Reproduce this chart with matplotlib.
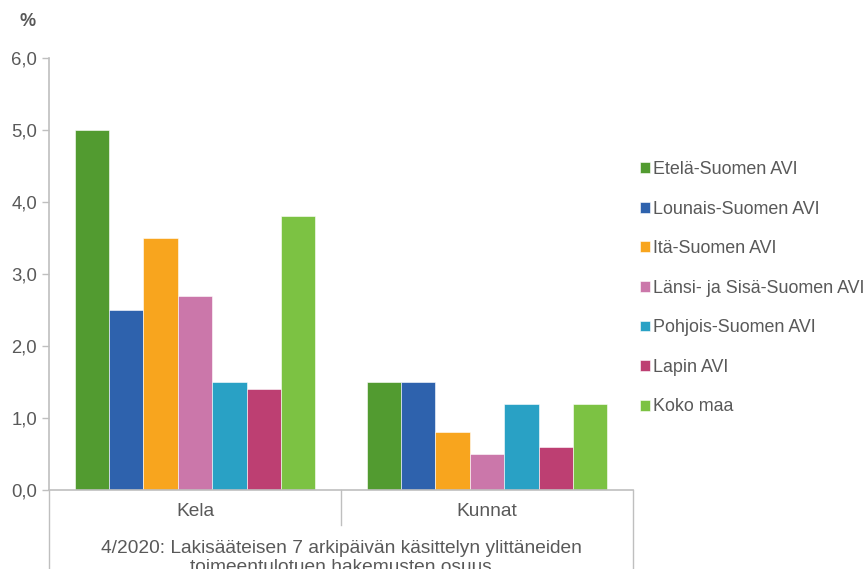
import numpy as np
import matplotlib.pyplot as plt
import matplotlib.transforms as mtransforms

categories = ["Kela", "Kunnat"]
series = ["Etelä-Suomen AVI", "Lounais-Suomen AVI", "Itä-Suomen AVI",
          "Länsi- ja Sisä-Suomen AVI", "Pohjois-Suomen AVI", "Lapin AVI", "Koko maa"]
values = [
    [5.0, 1.5],
    [2.5, 1.5],
    [3.5, 0.8],
    [2.7, 0.5],
    [1.5, 1.2],
    [1.4, 0.6],
    [3.8, 1.2],
]
colors = ["#529B30", "#2E62AD", "#F8A51E", "#CB77AA", "#29A1C5", "#BD3F72", "#7CC243"]
yticks = [0, 1, 2, 3, 4, 5, 6]
title_text = "4/2020: Lakisääteisen 7 arkipäivän käsittelyn ylittäneiden\ntoimeentulotuen hakemusten osuus"

plt.rcParams['font.family'] = ['Liberation Sans', 'DejaVu Sans']
grey = "#595959"
line_grey = "#BFBFBF"

fig = plt.figure(figsize=(8.66, 5.69), dpi=100)
W, H = 866, 569
ax = fig.add_axes([49 / W, (H - 490) / H, (633 - 49) / W, (490 - 58) / H])

x = np.arange(len(categories))
n = len(series)
bw = 0.825 / n
for i, (name, vals, c) in enumerate(zip(series, values, colors)):
    ax.bar(x + (i - (n - 1) / 2) * bw, vals, width=bw, color=c, label=name,
           edgecolor="white", linewidth=0.4)

ax.set_xlim(-0.5, 1.5)
ax.set_ylim(0, 6)
ax.set_yticks(yticks)
ax.set_yticklabels([f"{v:.1f}".replace(".", ",") for v in yticks])
ax.tick_params(axis="y", colors=line_grey, labelcolor=grey, labelsize=13.3, length=5, width=1)
ax.set_xticks([])
for s in ["top", "right"]:
    ax.spines[s].set_visible(False)
ax.spines["left"].set_color(line_grey)
ax.spines["bottom"].set_color(line_grey)
ax.spines["left"].set_linewidth(1.2)
ax.spines["bottom"].set_linewidth(1.2)

# multilevel category axis
trans = mtransforms.blended_transform_factory(ax.transData, ax.transAxes)
ah = 490 - 58
y1 = -(525 - 490) / ah
y2 = -(H - 490) / ah
for xv, yb in [(-0.5, y2), (0.5, y1), (1.5, y2)]:
    ax.plot([xv, xv], [0, yb], color=line_grey, lw=1, transform=trans, clip_on=False)
for xv, lab in zip(x, categories):
    ax.text(xv, -(512 - 490) / ah, lab, transform=trans, ha="center", va="center",
            fontsize=13.8, color=grey)
ax.text(0.5, -(558 - 490) / ah, title_text, transform=trans, ha="center", va="center",
        fontsize=13.8, color=grey, linespacing=1.12)

fig.text(28 / W, 1 - 22 / H, "%", ha="center", va="center", fontsize=13, color=grey,
         fontweight="bold")

leg = fig.legend(loc="upper left", bbox_to_anchor=(640 / W, 1 - 161 / H), frameon=False,
                 fontsize=12.9, labelcolor=grey, handlelength=0.55, handleheight=0.55,
                 handletextpad=0.2, labelspacing=1.26, borderpad=0, borderaxespad=0)

fig.savefig("out.png", dpi=100)
